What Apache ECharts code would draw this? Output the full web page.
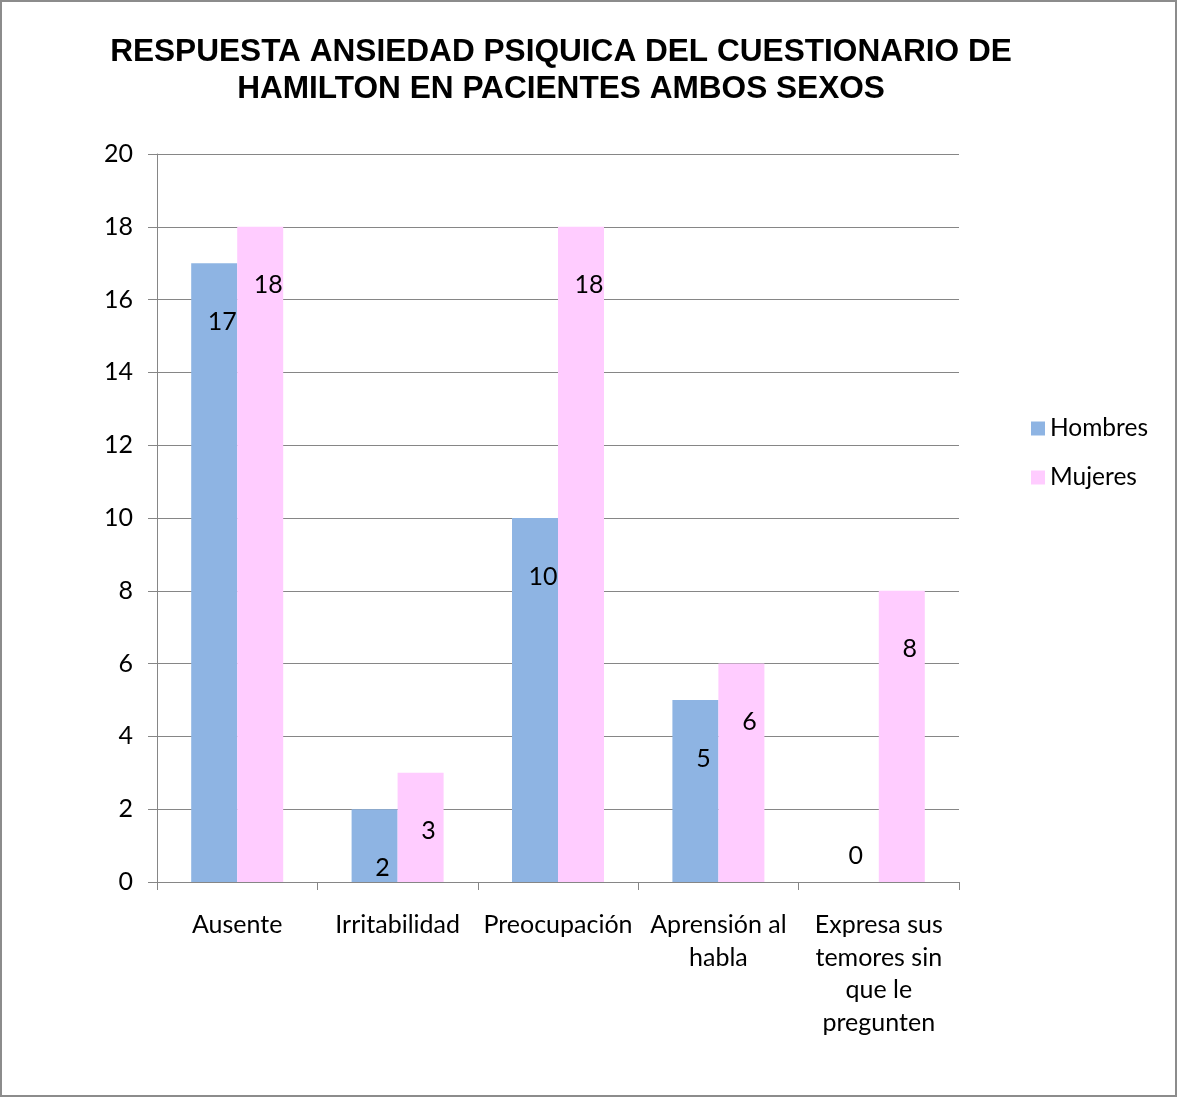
<!DOCTYPE html>
<html>
<head>
<meta charset="utf-8">
<script src="https://cdn.jsdelivr.net/npm/echarts@6/dist/echarts.min.js"></script>
<style>
  html, body { margin: 0; padding: 0; background: #fff; }
  #frame { width: 1177px; height: 1097px; box-sizing: border-box; border: 2px solid #8c8c8c; background: #fff; }
  #chart { width: 1173px; height: 1093px; }
</style>
</head>
<body>
<div id="frame"><div id="chart"></div></div>
<script>
// Categories of the Hamilton psychic-anxiety item
const categories = [
  'Ausente',
  'Irritabilidad',
  'Preocupación',
  'Aprensión al\nhabla',
  'Expresa sus\ntemores sin\nque le\npregunten'
];
// Patient counts per sex
const hombres = [17, 2, 10, 5, 0];
const mujeres = [18, 3, 18, 6, 8];
// Value axis ticks
const yMin = 0, yMax = 20, yStep = 2;

const labelFont = 'Lato, "Noto Sans", sans-serif';
const axisGrey = '#868686';

// Zero-height bars get their label above the axis instead of inside
function seriesData(values) {
  return values.map(v => v === 0
    ? { value: v, label: { position: 'top', distance: 14, offset: [0, 0] } }
    : v);
}

function barLabel() {
  return {
    show: true,
    position: 'insideTop',
    distance: 46,
    offset: [8, 0],
    color: '#000',
    fontFamily: labelFont,
    fontSize: 25
  };
}

const chart = echarts.init(document.getElementById('chart'), null, { renderer: 'canvas' });
chart.setOption({
  animation: false,
  title: {
    text: 'RESPUESTA ANSIEDAD PSIQUICA DEL CUESTIONARIO DE\nHAMILTON EN PACIENTES AMBOS SEXOS',
    top: 27,
    left: 554,
    textAlign: 'center',
    textStyle: {
      fontFamily: '"Liberation Sans", Arial, sans-serif',
      fontWeight: 'bold',
      fontSize: 31.6,
      lineHeight: 37,
      color: '#000'
    }
  },
  legend: {
    orient: 'vertical',
    left: 1029,
    top: 414,
    padding: 0,
    itemWidth: 14,
    itemHeight: 14,
    itemGap: 24,
    icon: 'rect',
    textStyle: { fontFamily: labelFont, fontSize: 24.5, lineHeight: 25, color: '#000' },
    data: ['Hombres', 'Mujeres']
  },
  grid: { left: 155, right: 216, top: 152, bottom: 213 },
  xAxis: {
    type: 'category',
    data: categories,
    boundaryGap: true,
    axisLine: { lineStyle: { color: axisGrey, width: 1 } },
    axisTick: { show: true, length: 8, lineStyle: { color: axisGrey } },
    axisLabel: {
      interval: 0,
      margin: 27,
      color: '#000',
      fontFamily: labelFont,
      fontSize: 25,
      lineHeight: 32.5
    }
  },
  yAxis: {
    type: 'value',
    min: yMin,
    max: yMax,
    interval: yStep,
    axisLine: { show: true, lineStyle: { color: axisGrey, width: 1 } },
    axisTick: { show: true, length: 9, lineStyle: { color: axisGrey } },
    splitLine: { lineStyle: { color: axisGrey, width: 1 } },
    axisLabel: {
      margin: 24,
      color: '#000',
      fontFamily: labelFont,
      fontSize: 25
    }
  },
  series: [
    {
      name: 'Hombres',
      type: 'bar',
      data: seriesData(hombres),
      barWidth: 46,
      barGap: '0%',
      itemStyle: { color: '#8EB4E3' },
      label: barLabel()
    },
    {
      name: 'Mujeres',
      type: 'bar',
      data: seriesData(mujeres),
      barWidth: 46,
      barGap: '0%',
      itemStyle: { color: '#FFCCFF' },
      label: barLabel()
    }
  ]
});
</script>
</body>
</html>
